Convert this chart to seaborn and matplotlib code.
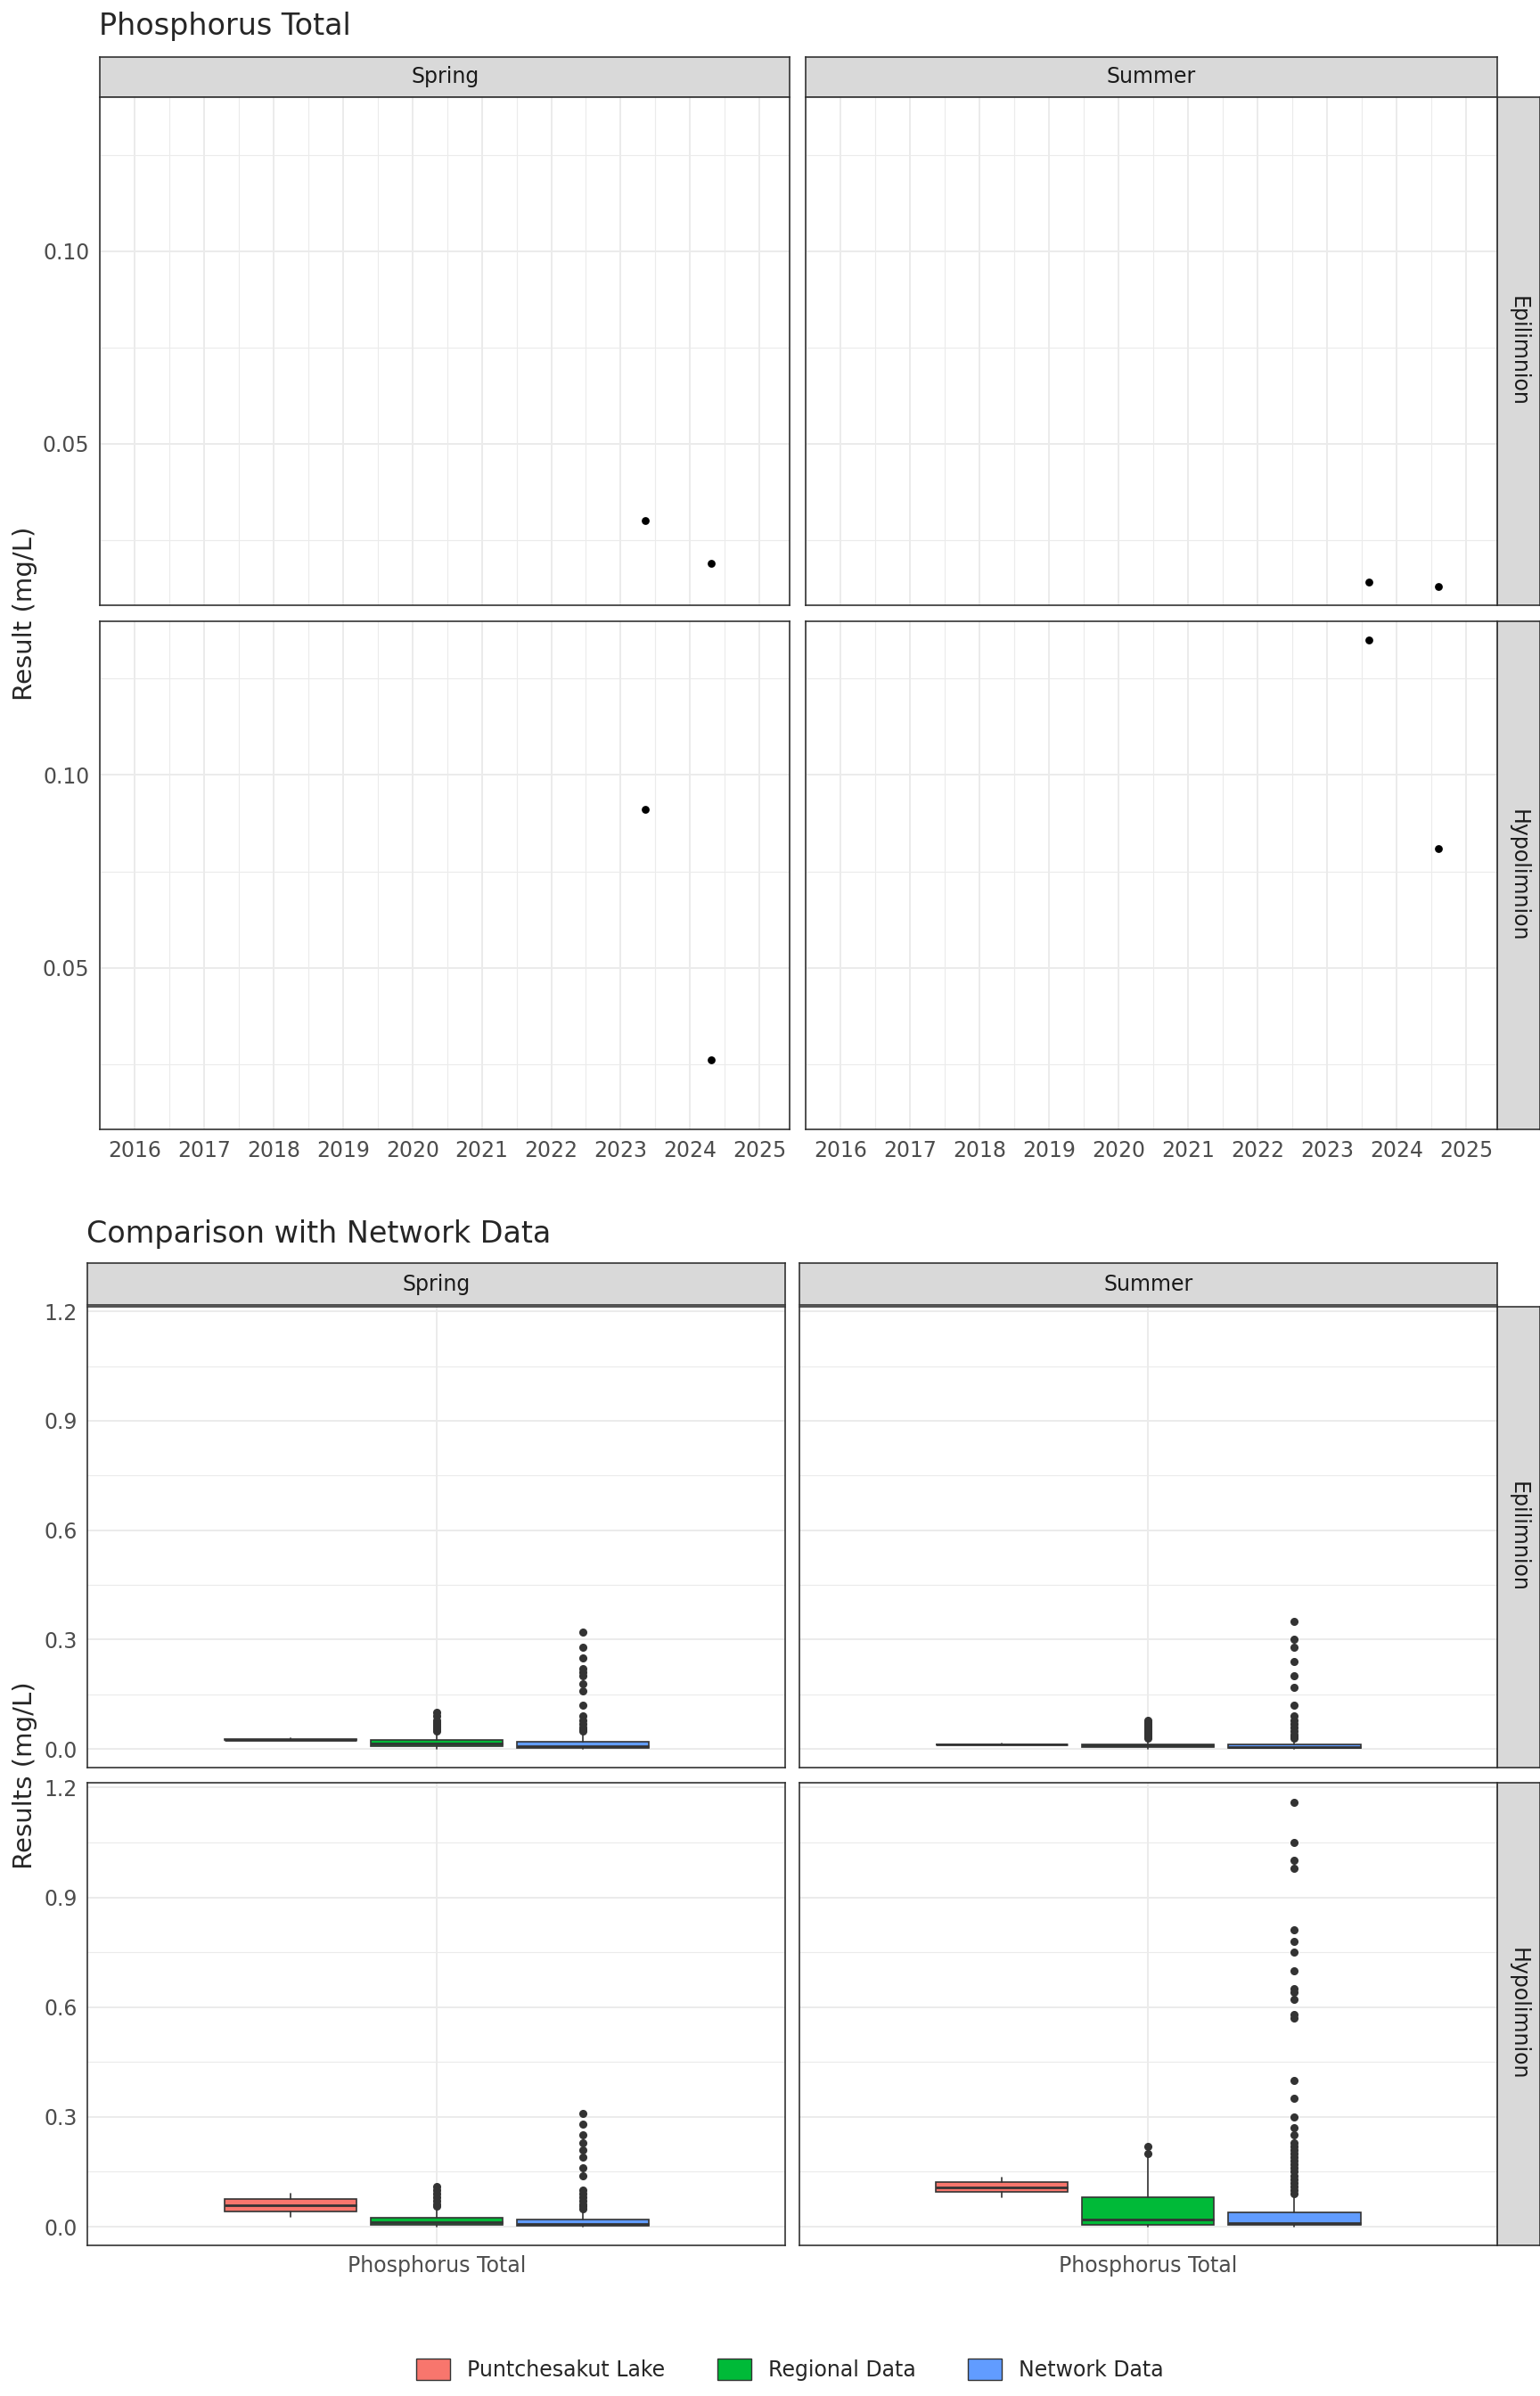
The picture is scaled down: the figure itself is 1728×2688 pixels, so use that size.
import matplotlib
matplotlib.use("Agg")
import matplotlib.pyplot as plt
import seaborn as sns
import pandas as pd
import numpy as np

# ---------------- data ----------------
seasons = ["Spring", "Summer"]
layers = ["Epilimnion", "Hypolimnion"]
years = list(range(2016, 2026))

pt_season = ["Spring", "Spring", "Summer", "Summer", "Spring", "Spring", "Summer", "Summer"]
pt_layer = ["Epilimnion", "Epilimnion", "Epilimnion", "Epilimnion",
            "Hypolimnion", "Hypolimnion", "Hypolimnion", "Hypolimnion"]
pt_date = [2023.35, 2024.3, 2023.6, 2024.6, 2023.35, 2024.3, 2023.6, 2024.6]
pt_value = [0.030, 0.019, 0.014, 0.013, 0.091, 0.026, 0.135, 0.081]

groups = ["Puntchesakut Lake", "Regional Data", "Network Data"]
group_colors = ["#F8766D", "#00BA38", "#619CFF"]

# box stats per (season, layer): for each group [whislo, q1, med, q3, whishi]
box_stats = {
    ("Spring", "Epilimnion"): [[0.024, 0.025, 0.026, 0.028, 0.029],
                               [0.0, 0.008, 0.015, 0.025, 0.048],
                               [0.0, 0.003, 0.008, 0.020, 0.045]],
    ("Summer", "Epilimnion"): [[0.013, 0.0135, 0.0138, 0.014, 0.0145],
                               [0.0, 0.005, 0.010, 0.013, 0.025],
                               [0.0, 0.003, 0.006, 0.012, 0.025]],
    ("Spring", "Hypolimnion"): [[0.026, 0.042, 0.058, 0.075, 0.091],
                                [0.0, 0.006, 0.012, 0.025, 0.050],
                                [0.0, 0.003, 0.008, 0.020, 0.045]],
    ("Summer", "Hypolimnion"): [[0.081, 0.094, 0.108, 0.121, 0.135],
                                [0.0, 0.005, 0.020, 0.080, 0.190],
                                [0.0, 0.004, 0.010, 0.040, 0.090]],
}
box_fliers = {
    ("Spring", "Epilimnion"): [[],
                               [0.05, 0.055, 0.06, 0.065, 0.07, 0.075, 0.08, 0.09, 0.10],
                               [0.05, 0.055, 0.06, 0.07, 0.08, 0.09, 0.12, 0.16, 0.18, 0.20, 0.21, 0.22, 0.25, 0.28, 0.32]],
    ("Summer", "Epilimnion"): [[],
                               [0.03, 0.035, 0.04, 0.045, 0.05, 0.055, 0.06, 0.065, 0.07, 0.075, 0.08],
                               [0.03, 0.035, 0.04, 0.05, 0.06, 0.07, 0.08, 0.09, 0.12, 0.17, 0.20, 0.24, 0.28, 0.30, 0.35]],
    ("Spring", "Hypolimnion"): [[],
                                [0.055, 0.06, 0.07, 0.08, 0.09, 0.10, 0.11],
                                [0.05, 0.055, 0.06, 0.07, 0.08, 0.09, 0.10, 0.14, 0.16, 0.19, 0.21, 0.23, 0.25, 0.28, 0.31]],
    ("Summer", "Hypolimnion"): [[],
                                [0.20, 0.22],
                                [0.09, 0.10, 0.11, 0.12, 0.13, 0.14, 0.15, 0.16, 0.17, 0.18, 0.19, 0.20, 0.21, 0.22,
                                 0.23, 0.25, 0.27, 0.30, 0.35, 0.40, 0.57, 0.58, 0.62, 0.64, 0.65, 0.70, 0.75,
                                 0.78, 0.81, 0.98, 1.00, 1.05, 1.16]],
}
y_ticks_top = [0.05, 0.10]
y_ticks_bot = [0.0, 0.3, 0.6, 0.9, 1.2]

# ---------------- figure ----------------
W, H = 1000.0, 1555.0
fig = plt.figure(figsize=(17.28, 26.88), dpi=100)
sns.set_style("white")
FS = 17


def rect(x0, y0, x1, y1):
    return [x0 / W, 1 - y1 / H, (x1 - x0) / W, (y1 - y0) / H]


def strip_top(x0, x1, y0, y1, text):
    a = fig.add_axes(rect(x0, y0, x1, y1))
    a.set_facecolor("#D9D9D9")
    a.set_xticks([]); a.set_yticks([])
    for s in a.spines.values():
        s.set_color("#333333"); s.set_linewidth(1.2)
    a.text(0.5, 0.5, text, ha="center", va="center", fontsize=FS, color="#1A1A1A")


def strip_right(x0, x1, y0, y1, text):
    a = fig.add_axes(rect(x0, y0, x1, y1))
    a.set_facecolor("#D9D9D9")
    a.set_xticks([]); a.set_yticks([])
    for s in a.spines.values():
        s.set_color("#333333"); s.set_linewidth(1.2)
    a.text(0.5, 0.5, text, ha="center", va="center", fontsize=FS, color="#1A1A1A", rotation=-90)


def style(ax):
    for s in ax.spines.values():
        s.set_color("#333333"); s.set_linewidth(1.2)
    ax.grid(True, which="major", color="#EBEBEB", lw=1.4)
    ax.grid(True, which="minor", color="#EBEBEB", lw=0.8)
    ax.set_axisbelow(True)
    ax.tick_params(axis="both", which="major", labelsize=FS, colors="#4D4D4D", length=5, color="#333333")
    ax.tick_params(axis="both", which="minor", length=0)


df = pd.DataFrame({"season": pt_season, "layer": pt_layer, "date": pt_date, "value": pt_value})

# ---------- top section ----------
fig.text(64 / W, 1 - 17 / H, "Phosphorus Total", fontsize=24, va="center", ha="left")
fig.text(16 / W, 1 - 398 / H, "Result (mg/L)", fontsize=21, rotation=90, va="center", ha="center")
tx = {"Spring": (65, 513), "Summer": (523, 972)}
ty = {"Epilimnion": (63, 393), "Hypolimnion": (403, 733)}
for s in seasons:
    strip_top(tx[s][0], tx[s][1], 37, 63, s)
for l in layers:
    strip_right(972, 1000, ty[l][0], ty[l][1], l)
for s in seasons:
    for l in layers:
        ax = fig.add_axes(rect(tx[s][0], ty[l][0], tx[s][1], ty[l][1]))
        sub = df[(df.season == s) & (df.layer == l)]
        sns.scatterplot(data=sub, x="date", y="value", ax=ax, color="black", s=40, edgecolor="black", linewidth=0)
        ax.set_xlim(2015.56, 2025.44)
        ax.set_ylim(0.008, 0.140)
        ax.set_xticks(years)
        ax.set_xticks([y + 0.5 for y in years[:-1]] + [2015.5], minor=True)
        ax.set_yticks(y_ticks_top)
        ax.set_yticks([0.025, 0.075, 0.125], minor=True)
        ax.set_xlabel(""); ax.set_ylabel("")
        style(ax)
        if l == "Epilimnion":
            ax.set_xticklabels([])
            ax.tick_params(axis="x", length=0)
        else:
            ax.set_xticklabels([str(y) for y in years])
        if s == "Summer":
            ax.set_yticklabels([])
            ax.tick_params(axis="y", length=0)
        else:
            ax.set_yticklabels([f"{v:.2f}" for v in y_ticks_top])

# ---------- bottom section ----------
fig.text(56 / W, 1 - 801 / H, "Comparison with Network Data", fontsize=24, va="center", ha="left")
fig.text(16 / W, 1 - 1152 / H, "Results (mg/L)", fontsize=21, rotation=90, va="center", ha="center")
bx = {"Spring": (57, 510), "Summer": (519, 972)}
by = {"Epilimnion": (848, 1147), "Hypolimnion": (1157, 1457)}
for s in seasons:
    strip_top(bx[s][0], bx[s][1], 820, 847, s)
for l in layers:
    strip_right(972, 1000, by[l][0], by[l][1], l)
positions = [-0.25, 0.0, 0.25]
for s in seasons:
    for l in layers:
        ax = fig.add_axes(rect(bx[s][0], by[l][0], bx[s][1], by[l][1]))
        stats = []
        for i, g in enumerate(groups):
            lo, q1, med, q3, hi = box_stats[(s, l)][i]
            stats.append(dict(whislo=lo, q1=q1, med=med, q3=q3, whishi=hi,
                              fliers=box_fliers[(s, l)][i], label=g))
        bp = ax.bxp(stats, positions=positions, widths=0.226, patch_artist=True,
                    showcaps=False,
                    medianprops=dict(color="#333333", lw=2),
                    whiskerprops=dict(color="#333333", lw=1.2),
                    boxprops=dict(edgecolor="#333333", lw=1.2),
                    flierprops=dict(marker="o", markerfacecolor="#333333", markeredgecolor="#333333",
                                    markersize=5.5))
        for p, c in zip(bp["boxes"], group_colors):
            p.set_facecolor(c)
        ax.set_xlim(-0.596, 0.596)
        ax.set_ylim(-0.05, 1.213)
        ax.set_xticks([0.0])
        ax.set_yticks(y_ticks_bot)
        ax.set_yticks([0.15, 0.45, 0.75, 1.05], minor=True)
        style(ax)
        if l == "Epilimnion":
            ax.set_xticklabels([])
            ax.tick_params(axis="x", length=0)
        else:
            ax.set_xticklabels(["Phosphorus Total"])
        if s == "Summer":
            ax.set_yticklabels([])
            ax.tick_params(axis="y", length=0)
        else:
            ax.set_yticklabels([f"{v:.1f}" for v in y_ticks_bot])

# legend
from matplotlib.patches import Patch
handles = [Patch(facecolor=c, edgecolor="#333333", label=g) for g, c in zip(groups, group_colors)]
fig.legend(handles=handles, loc="center", bbox_to_anchor=(0.513, 1 - 1538 / H), ncol=3,
           frameon=False, fontsize=FS, handlelength=1.6, handleheight=1.2, columnspacing=2.5)

fig.savefig("out.png", dpi=100)
